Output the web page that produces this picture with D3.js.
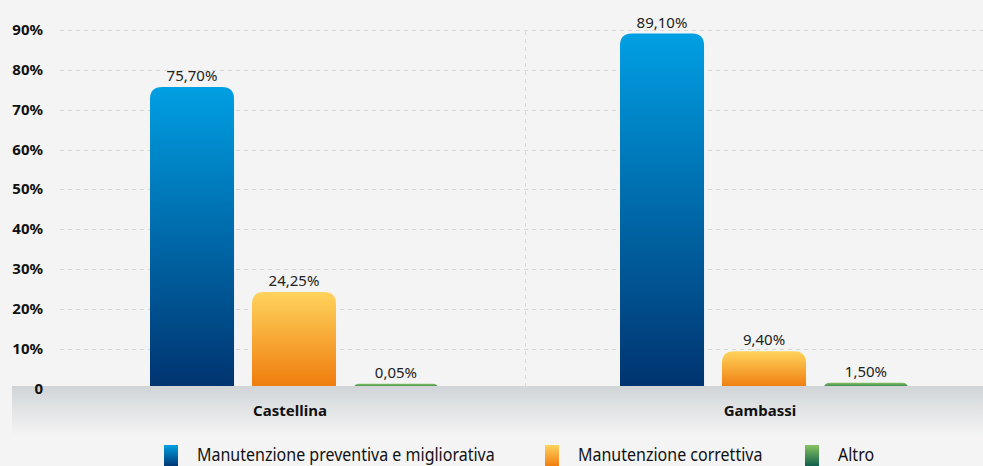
<!DOCTYPE html>
<html>
<head>
<meta charset="utf-8">
<script src="https://cdn.jsdelivr.net/npm/d3@7"></script>
<style>
  html, body { margin: 0; padding: 0; background: #f4f4f4; }
  svg { display: block; font-family: "Noto Sans", "Open Sans", sans-serif; }
</style>
</head>
<body>
<svg id="chart" width="983" height="466"></svg>
<script>
// Ripartizione degli interventi di manutenzione per impianto (%)
const categories = ["Castellina", "Gambassi"];
const seriesNames = ["Manutenzione preventiva e migliorativa", "Manutenzione correttiva", "Altro"];
const preventiva = [75.70, 89.10];
const correttiva = [24.25, 9.40];
const altro = [0.05, 1.50];
const yTicks = [0, 10, 20, 30, 40, 50, 60, 70, 80, 90];
const tickLabels = ["0", "10%", "20%", "30%", "40%", "50%", "60%", "70%", "80%", "90%"];

const seriesValues = [preventiva, correttiva, altro];
const gradients = [
  ["#009fe3", "#00336f"],
  ["#ffd35c", "#ef7a0c"],
  ["#86c35f", "#0b5b4c"]
];

const W = 983, H = 466;
const svg = d3.select("#chart");
const fmt = v => v.toFixed(2).replace(".", ",") + "%";

// category bands and bars inside each band
const x0 = d3.scaleBand().domain(categories).range([55, 995]);
const x1 = d3.scaleBand().domain(d3.range(seriesNames.length))
  .range([95, 383]).paddingInner(0.176);
const y = d3.scaleLinear().domain([0, 90]).range([388.7, 30]);

const defs = svg.append("defs");
gradients.forEach((g, i) => {
  const lg = defs.append("linearGradient").attr("id", "grad" + i)
    .attr("x1", 0).attr("y1", 0).attr("x2", 0).attr("y2", 1);
  lg.append("stop").attr("offset", "0%").attr("stop-color", g[0]);
  lg.append("stop").attr("offset", "100%").attr("stop-color", g[1]);
});
const band = defs.append("linearGradient").attr("id", "bandGrad")
  .attr("x1", 0).attr("y1", 0).attr("x2", 0).attr("y2", 1);
band.append("stop").attr("offset", "0%").attr("stop-color", "#d1d5d8");
band.append("stop").attr("offset", "100%").attr("stop-color", "#f4f4f4");

// horizontal grid
svg.append("g").selectAll("line").data(yTicks.filter(t => t > 0)).join("line")
  .attr("x1", 60).attr("x2", W)
  .attr("y1", d => Math.round(y(d)) + 0.5).attr("y2", d => Math.round(y(d)) + 0.5)
  .attr("stroke", "#d9d9d9").attr("stroke-width", 1).attr("stroke-dasharray", "4,4");

// separator between categories
svg.append("line")
  .attr("x1", x0(categories[1]) + 0.5).attr("x2", x0(categories[1]) + 0.5)
  .attr("y1", 31).attr("y2", 386)
  .attr("stroke", "#d9d9d9").attr("stroke-dasharray", "4,4");

// bars with rounded top corners
function barPath(x, yt, w, yb, r) {
  r = Math.min(r, (yb - yt), w / 2);
  return `M${x},${yb}V${yt + r}Q${x},${yt} ${x + r},${yt}H${x + w - r}Q${x + w},${yt} ${x + w},${yt + r}V${yb}Z`;
}
const minLen = 5;

categories.forEach((c, ci) => {
  const gx = x0(c);
  seriesValues.forEach((vals, si) => {
    const v = vals[ci];
    const bx = gx + x1(si);
    const bw = x1.bandwidth();
    let top = y(v);
    if (y(0) - top < minLen) top = y(0) - minLen;
    svg.append("path")
      .attr("d", barPath(bx, top, bw, y(0), 12))
      .attr("fill", `url(#grad${si})`);
    svg.append("text")
      .attr("x", bx + bw / 2).attr("y", top - 6)
      .attr("text-anchor", "middle")
      .attr("font-size", 15).attr("fill", "#222")
      .text(fmt(v));
  });
});

// category band at the base
svg.append("rect").attr("x", 12).attr("y", 386).attr("width", W - 12).attr("height", 50)
  .attr("fill", "url(#bandGrad)");

svg.append("g").selectAll("text").data(categories).join("text")
  .attr("x", d => x0(d) + x0.bandwidth() / 2)
  .attr("y", 416).attr("text-anchor", "middle")
  .attr("font-size", 15).attr("font-weight", "bold").attr("fill", "#111")
  .text(d => d);

// y axis labels
svg.append("g").selectAll("text").data(yTicks).join("text")
  .attr("x", 43).attr("y", d => y(d) + 5)
  .attr("text-anchor", "end")
  .attr("font-size", 15).attr("font-weight", "bold").attr("fill", "#111")
  .text((d, i) => tickLabels[i]);

// legend
const legendX = [164, 545, 805];
const lg = svg.append("g").selectAll("g").data(seriesNames).join("g")
  .attr("transform", (d, i) => `translate(${legendX[i]},445)`);
lg.append("rect").attr("width", 14).attr("height", 22).attr("fill", (d, i) => `url(#grad${i})`);
lg.append("text").attr("transform", "translate(33,16) scale(0.89,1)")
  .attr("font-size", 18).attr("fill", "#111").text(d => d);
</script>
</body>
</html>
